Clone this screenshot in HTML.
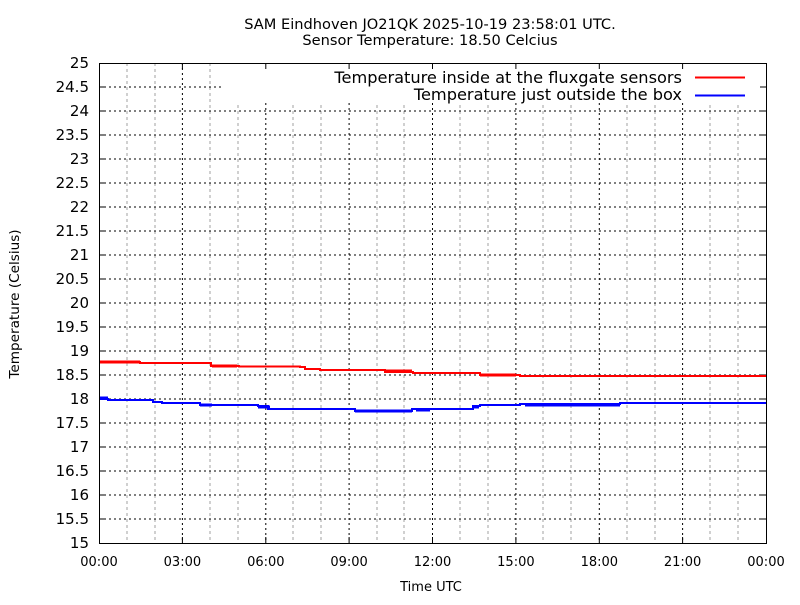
<!DOCTYPE html>
<html><head><meta charset="utf-8"><style>
body{margin:0;background:#fff}
text{font-family:"DejaVu Sans","Liberation Sans",sans-serif;font-size:15px;fill:#000}
.s{font-size:13px}
.t{font-size:14.6px}
.lg{font-size:16.2px}
</style></head><body>
<svg width="800" height="600" xmlns="http://www.w3.org/2000/svg">
<rect width="800" height="600" fill="#fff"/>
<g stroke="#a0a0a0" stroke-width="1" stroke-dasharray="3,3">
<path d="M127,63V543M155,63V543M210,63V543M238,63V543M293,63V543M321,63V543M377,63V543M404,63V543M460,63V543M488,63V543M543,63V543M571,63V543M627,63V543M655,63V543M710,63V543M738,63V543"/>
</g>
<g stroke="#000" stroke-width="1" stroke-dasharray="2,3">
<path d="M182.4,63V543M265.8,63V543M349.1,63V543M432.5,63V543M515.9,63V543M599.3,63V543M682.6,63V543"/>
<path d="M99,87H766M99,111H766M99,135H766M99,159H766M99,183H766M99,207H766M99,231H766M99,255H766M99,279H766M99,303H766M99,327H766M99,351H766M99,375H766M99,399H766M99,423H766M99,447H766M99,471H766M99,495H766M99,519H766"/>
</g>
<rect x="222" y="64" width="543" height="38" fill="#fff"/>
<rect x="99.5" y="63.5" width="667" height="480" fill="none" stroke="#000"/>
<g stroke="#000">
<path d="M99,87h6M99,111h6M99,135h6M99,159h6M99,183h6M99,207h6M99,231h6M99,255h6M99,279h6M99,303h6M99,327h6M99,351h6M99,375h6M99,399h6M99,423h6M99,447h6M99,471h6M99,495h6M99,519h6"/>
<path d="M766,87h-6M766,111h-6M766,135h-6M766,159h-6M766,183h-6M766,207h-6M766,231h-6M766,255h-6M766,279h-6M766,303h-6M766,327h-6M766,351h-6M766,375h-6M766,399h-6M766,423h-6M766,447h-6M766,471h-6M766,495h-6M766,519h-6"/>
<path d="M182.4,543v-6M265.8,543v-6M349.1,543v-6M432.5,543v-6M515.9,543v-6M599.3,543v-6M682.6,543v-6"/>
<path d="M182.4,63v6M265.8,63v6M349.1,63v6M432.5,63v6M515.9,63v6M599.3,63v6M682.6,63v6"/>
</g>
<g text-anchor="end">
<text x="89" y="68">25</text><text x="89" y="92">24.5</text><text x="89" y="116">24</text><text x="89" y="140">23.5</text><text x="89" y="164">23</text><text x="89" y="188">22.5</text><text x="89" y="212">22</text><text x="89" y="236">21.5</text><text x="89" y="260">21</text><text x="89" y="284">20.5</text><text x="89" y="308">20</text><text x="89" y="332">19.5</text><text x="89" y="356">19</text><text x="89" y="380">18.5</text><text x="89" y="404">18</text><text x="89" y="428">17.5</text><text x="89" y="452">17</text><text x="89" y="476">16.5</text><text x="89" y="500">16</text><text x="89" y="524">15.5</text><text x="89" y="548">15</text>
</g>
<g text-anchor="middle">
<text class="s" x="99" y="566">00:00</text><text class="s" x="182.4" y="566">03:00</text><text class="s" x="265.8" y="566">06:00</text><text class="s" x="349.1" y="566">09:00</text><text class="s" x="432.5" y="566">12:00</text><text class="s" x="515.9" y="566">15:00</text><text class="s" x="599.3" y="566">18:00</text><text class="s" x="682.6" y="566">21:00</text><text class="s" x="766" y="566">00:00</text>
<text class="s" x="431" y="591">Time UTC</text>
<text class="t" x="430" y="29">SAM Eindhoven JO21QK 2025-10-19 23:58:01 UTC.</text>
<text class="t" x="430" y="45">Sensor Temperature: 18.50 Celcius</text>
<text style="font-size:13.6px" transform="translate(19,304) rotate(-90)">Temperature (Celsius)</text>
</g>
<g text-anchor="end">
<text class="lg" x="682" y="83">Temperature inside at the fluxgate sensors</text>
<text class="lg" x="682" y="100">Temperature just outside the box</text>
</g>
<path d="M695,77.5h50" stroke="#f00" stroke-width="2"/>
<path d="M695,95.5h50" stroke="#00f" stroke-width="2"/>
<g fill="none" stroke-width="2">
<path stroke="#f00" d="M100,362H140V363H211V366H239V366.5H300V367H305V369H320V370H385V372H413V373H480V375H520V376H766"/>
<path stroke="#f00" stroke-width="3" d="M100,362h40M212,366h25M386,371h26M480,375h36"/>
<path stroke="#00f" d="M100,399H108V400H153V402H162V403H200V405H258V406H268V409H355V411H412V409H473V406H480V405H520V404H620V403H766"/>
<path stroke="#00f" stroke-width="3" d="M100,398h8M200,405h12M258,407h12M355,411h57M416,410h14M474,407h5M525,405h95"/>
</g>
</svg>
</body></html>
